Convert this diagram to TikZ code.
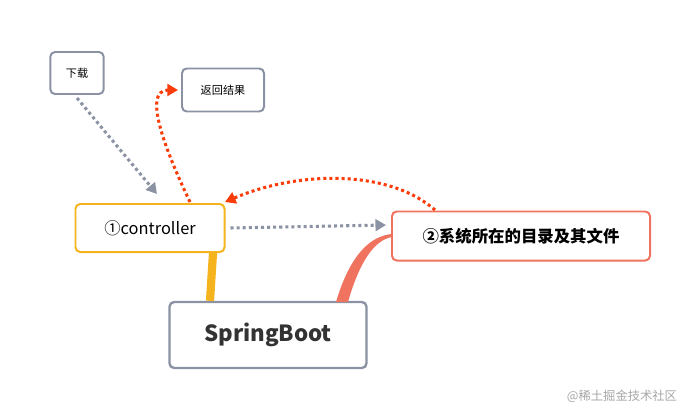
\documentclass[tikz,border=0pt]{standalone}
\usepackage{fontspec}
\setmainfont{Noto Sans CJK SC}
\usetikzlibrary{arrows.meta,positioning}
\definecolor{boxgray}{RGB}{138,146,163}
\definecolor{ctrlorange}{RGB}{245,180,30}
\definecolor{syssalmon}{RGB}{240,115,95}
\definecolor{retred}{RGB}{250,60,10}

\begin{document}
\begin{tikzpicture}[x=0.03cm, y=-0.03cm,
    box/.style={rectangle, rounded corners=4pt, draw=boxgray, line width=1.7pt, fill=white, align=center},
    small/.style={box, font=\fontsize{9.5}{11}\selectfont, inner sep=0pt},
    flow/.style={-{Triangle[length=9pt,width=10pt]}, line width=2.6pt, dash pattern=on 2.6pt off 2.6pt, boxgray},
    back/.style={-{Triangle[length=9pt,width=10pt]}, line width=2.6pt, dash pattern=on 2.6pt off 2.6pt, retred}
]
\useasboundingbox (0,0) rectangle (699,419);

% Boxes
\node[small, minimum width=1.6cm, minimum height=1.26cm] (dl) at (77,73) {下载};
\node[small, minimum width=2.46cm, minimum height=1.29cm] (ret) at (223,90) {返回结果};
\node[box, draw=ctrlorange, minimum width=4.47cm, minimum height=1.44cm, font=\fontsize{14}{16}\selectfont] (ctrl) at (150,228) {①controller};
\node[box, draw=syssalmon, minimum width=7.74cm, minimum height=1.47cm, font=\fontsize{14}{16}\selectfont\bfseries] (sys) at (521,236) {②系统所在的目录及其文件};
\node[box, line width=2pt, minimum width=5.91cm, minimum height=1.98cm, font=\fontsize{19}{21}\selectfont\bfseries, text=black!80] (sb) at (268,335) {SpringBoot};

% Branches
\draw[ctrlorange, line width=7pt] (sb.north -| 210,0) -- (ctrl.south -| 213,0);
\fill[syssalmon] (336,302) .. controls (350,255) and (370,236) .. (392,234)
    -- (392,237) .. controls (375,240) and (360,260) .. (348,302) -- cycle;

% Arrows
\draw[flow] (dl.south) ++(0,3) -- (157,194);
\draw[flow] (ctrl.east) ++(5,0) -- (386,225);
\draw[back] (190,202) .. controls (170,160) and (140,90) .. (178,90);
\draw[back] (435,210) .. controls (390,170) and (300,170) .. (225,202);

% Watermark
\node[text=gray!70, font=\fontsize{10.5}{12}\selectfont] (wm) at (622,396) {@稀土掘金技术社区};
\end{tikzpicture}
\end{document}
